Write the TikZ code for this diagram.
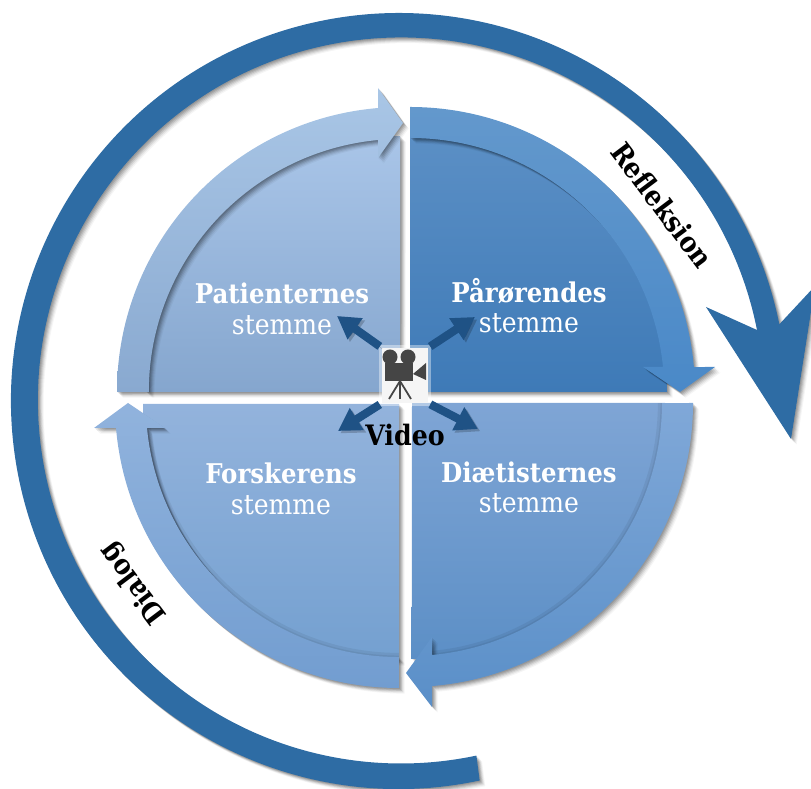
\documentclass[tikz,border=0pt]{standalone}
\usepackage{xcolor}
\usepackage{fontspec}
\usepackage{tikz}
\usetikzlibrary{arrows.meta,shadows}
\setmainfont{DejaVu Serif Condensed}
\definecolor{ringblue}{HTML}{2E6CA4}
\definecolor{videoblue}{HTML}{1F5285}
\definecolor{camgray}{HTML}{454545}
\definecolor{pata}{HTML}{A9C5E8}
\definecolor{patb}{HTML}{85A6CE}
\definecolor{patc}{HTML}{A9C6E6}
\definecolor{patd}{HTML}{89A9D0}
\definecolor{para}{HTML}{5B8FC5}
\definecolor{parb}{HTML}{3E7AB7}
\definecolor{parc}{HTML}{6398CC}
\definecolor{pard}{HTML}{4A89C8}
\definecolor{diaa}{HTML}{7FA5D5}
\definecolor{diab}{HTML}{5C8FC6}
\definecolor{diac}{HTML}{80A8D8}
\definecolor{diad}{HTML}{5A8FC8}
\definecolor{fora}{HTML}{93B3DC}
\definecolor{forb}{HTML}{74A0D0}
\definecolor{forc}{HTML}{91B3DD}
\definecolor{ford}{HTML}{729DD0}

\begin{document}
\begin{tikzpicture}[x=0.03cm, y=0.03cm,
    softshadow/.style={
        general shadow={shadow xshift=0.8pt, shadow yshift=-0.8pt, fill=black, opacity=0.11},
        general shadow={shadow xshift=1.6pt, shadow yshift=-1.6pt, fill=black, opacity=0.11},
        general shadow={shadow xshift=2.4pt, shadow yshift=-2.4pt, fill=black, opacity=0.10},
        general shadow={shadow xshift=3.2pt, shadow yshift=-3.2pt, fill=black, opacity=0.08},
        general shadow={shadow xshift=4.0pt, shadow yshift=-4.0pt, fill=black, opacity=0.06},
        general shadow={shadow xshift=4.8pt, shadow yshift=-4.8pt, fill=black, opacity=0.04}},
    ring/.style={fill=ringblue, softshadow},
    panel/.style={softshadow},
    innerglow/.style={draw=black, line width=2.5pt, opacity=0.06,
        preaction={draw=black, line width=7pt, opacity=0.06}},
    voicehead/.style={text=white, font=\fontsize{23.2}{26}\selectfont\bfseries, inner sep=0pt},
    voicetext/.style={text=white, font=\fontsize{23.8}{26}\selectfont, inner sep=0pt},
    blacklabel/.style={text=black, font=\fontsize{24}{26}\selectfont\bfseries, inner sep=0pt},
    videoarrow/.style={line width=7pt, draw=videoblue, shorten <=2pt, -{Triangle[width=21pt,length=19pt]},
        preaction={draw=black, opacity=0.2, transform canvas={shift={(2pt,-2pt)}}}},
    campart/.style={fill=camgray, draw=none}]
    \useasboundingbox (0,0) rectangle (811,789);

    % Outer ring
    \path[ring] (399,388) ++(-78:388) arc[start angle=-78, end angle=-348.6, radius=388]
        -- (815,503) -- (791,350) -- (706,482) -- (757,459)
        arc[start angle=-348.8, end angle=-78, radius=363] -- cycle;

    % Patienternes
    \path[panel, top color=pata, bottom color=patb]
        (400,397) -- (146,397) arc[start angle=180, end angle=90.4, radius=256] -- cycle;
    \path[panel, top color=patc, bottom color=patd]
        (117,397) arc[start angle=180, end angle=94.8, radius=285]
        -- (378,701) -- (403,666) -- (378,631) -- (378,649)
        arc[start angle=95.4, end angle=180, radius=253] -- cycle;

    % Paarorendes
    \path[panel, top color=para, bottom color=parb]
        (410,397) -- (410,654) arc[start angle=90, end angle=0, radius=257] -- cycle;
    \path[panel, top color=parc, bottom color=pard]
        (410,682) arc[start angle=90, end angle=5.03, radius=285]
        -- (715,422) -- (680,397) -- (643,422) -- (663,422)
        arc[start angle=5.65, end angle=90, radius=254] -- cycle;

    % Diaetisternes
    \path[panel, top color=diaa, bottom color=diab]
        (412,386) -- (665,386) arc[start angle=0, end angle=-89.4, radius=256] -- cycle;
    \draw[innerglow] (432,134) arc[start angle=-84.78, end angle=0, radius=253];
    \path[panel, top color=diac, bottom color=diad]
        (693,386) arc[start angle=0, end angle=-85.35, radius=284]
        -- (432,82) -- (406,116) -- (432,152) -- (432,134)
        arc[start angle=-84.78, end angle=0, radius=253] -- cycle;

    % Forskerens
    \path[panel, top color=fora, bottom color=forb]
        (399,385) -- (143,385) arc[start angle=180, end angle=270, radius=256] -- cycle;
    \draw[innerglow] (147,361) arc[start angle=-174.56, end angle=-90, radius=253];
    \path[panel, top color=forc, bottom color=ford]
        (399,101) arc[start angle=-90, end angle=-175.15, radius=284]
        -- (94,361) -- (128,386) -- (165,361) -- (147,361)
        arc[start angle=-174.56, end angle=-90, radius=253] -- cycle;

    % Camera
    \node[fill=white!96!black, minimum width=46*0.03cm, minimum height=55*0.03cm, inner sep=0pt,
        preaction={draw=white, line width=5pt, opacity=0.4}] (cam) at (405,413.5) {};
    \path[campart] (390,432) circle[radius=7.5];
    \path[campart] (408,432) circle[radius=7.5];
    \path[campart] (385,408) rectangle (413,426);
    \path[campart] (413,415) -- (426,426) -- (426,409) -- cycle;
    \draw[camgray, line width=1.5pt] (389,390) -- (400,408) -- (411,390) (400,408) -- (400,390);

    % Arrows from the camera
    \coordinate (vidtl) at (337,473);
    \coordinate (vidtr) at (475,472);
    \coordinate (vidbl) at (338,358);
    \coordinate (vidbr) at (478,360);
    \draw[videoarrow] (cam.north west) -- (vidtl);
    \draw[videoarrow] (cam.north east) -- (vidtr);
    \draw[videoarrow] (cam.south west) -- (vidbl);
    \draw[videoarrow] (cam.south east) -- (vidbr);

    % Voices
    \node[voicehead] (pathead) at (282,496) {Patienternes};
    \node[voicetext] (pattext) at (282,464) {stemme};
    \node[voicehead] (parhead) at (529,498) {Pårørendes};
    \node[voicetext] (partext) at (529,466) {stemme};
    \node[voicehead] (diahead) at (529,317) {Diætisternes};
    \node[voicetext] (diatext) at (529,286) {stemme};
    \node[voicehead] (forhead) at (281,316) {Forskerens};
    \node[voicetext] (fortext) at (281,284) {stemme};

    % Labels
    \node[blacklabel] (video) at (405,354) {Video};
    \node[blacklabel, rotate=-53] (refl) at (662,584) {Refleksion};
    \node[blacklabel, rotate=127] (dial) at (134,206) {Dialog};
\end{tikzpicture}
\end{document}
